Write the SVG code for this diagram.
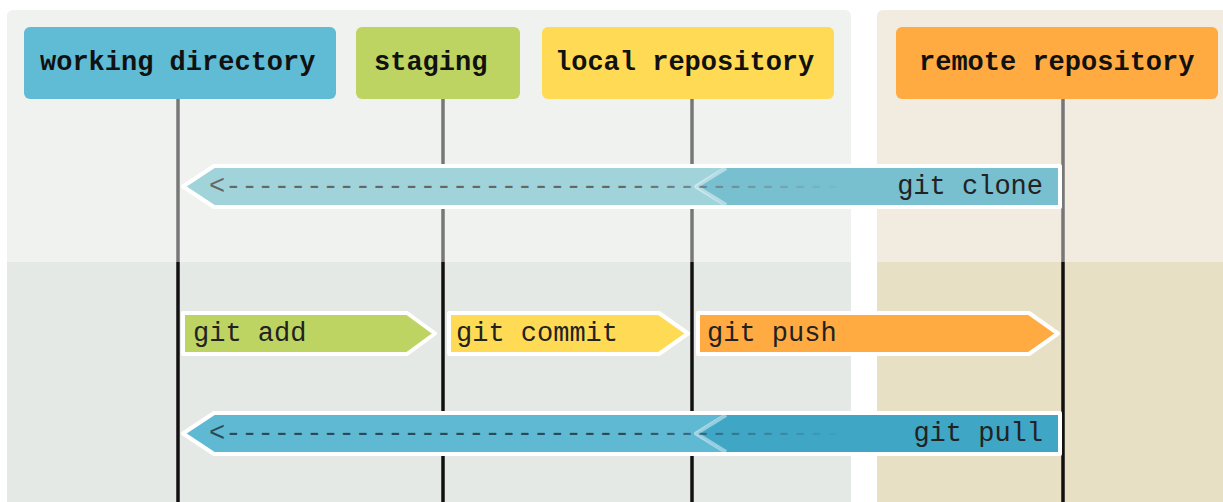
<svg xmlns="http://www.w3.org/2000/svg" width="1223" height="502" viewBox="0 0 1223 502">
<style>
.node-label{font-family:"Liberation Mono","Courier New",monospace;font-size:27px;font-weight:bold;fill:#111}
.arrow-label{font-family:"Liberation Mono","Courier New",monospace;font-size:27px;fill:#222}
.dash{font-family:"Liberation Mono","Courier New",monospace;font-size:27px}
.life-top{stroke:#777;stroke-width:3.5}
.life-bot{stroke:#111;stroke-width:3.5}
.outline{fill:none;stroke:#fff;stroke-width:4;stroke-linejoin:round}
.chev{fill:none;stroke:#fff;stroke-opacity:0.45;stroke-width:4;stroke-linejoin:round}
</style>
<defs>
<linearGradient id="fadeClone" gradientUnits="userSpaceOnUse" x1="620" y1="0" x2="850" y2="0">
<stop offset="0" stop-color="#666" stop-opacity="1"/>
<stop offset="1" stop-color="#666" stop-opacity="0"/>
</linearGradient>
<linearGradient id="fadePull" gradientUnits="userSpaceOnUse" x1="620" y1="0" x2="850" y2="0">
<stop offset="0" stop-color="#2a4a55" stop-opacity="1"/>
<stop offset="1" stop-color="#2a4a55" stop-opacity="0"/>
</linearGradient>
</defs>
<rect width="1223" height="502" fill="#fff"/>
<g id="panels">
<rect x="7" y="10" width="844" height="500" rx="6" fill="#f0f2ef"/>
<rect x="7" y="262" width="844" height="250" fill="#e5e9e5"/>
<rect x="877" y="10" width="360" height="500" rx="6" fill="#f2ece0"/>
<rect x="877" y="262" width="360" height="250" fill="#e8e0c4"/>
</g>
<g id="node-working-directory">
<rect x="24" y="27" width="312" height="72" rx="6" fill="#60bbd4"/>
<text class="node-label" x="40" y="70">working directory</text>
</g>
<g id="node-staging">
<rect x="356" y="27" width="164" height="72" rx="6" fill="#bed462"/>
<text class="node-label" x="374" y="70">staging</text>
</g>
<g id="node-local-repository">
<rect x="542" y="27" width="292" height="72" rx="6" fill="#ffdb55"/>
<text class="node-label" x="555" y="70">local repository</text>
</g>
<g id="node-remote-repository">
<rect x="896" y="27" width="322" height="72" rx="6" fill="#ffab42"/>
<text class="node-label" x="919" y="70">remote repository</text>
</g>
<g id="connectors">
<g id="lifelines">
<line class="life-top" x1="178" y1="99" x2="178" y2="262"/>
<line class="life-bot" x1="178" y1="262" x2="178" y2="502"/>
<line class="life-top" x1="443" y1="99" x2="443" y2="262"/>
<line class="life-bot" x1="443" y1="262" x2="443" y2="502"/>
<line class="life-top" x1="692" y1="99" x2="692" y2="262"/>
<line class="life-bot" x1="692" y1="262" x2="692" y2="502"/>
<line class="life-top" x1="1063" y1="99" x2="1063" y2="262"/>
<line class="life-bot" x1="1063" y1="262" x2="1063" y2="502"/>
</g>
<g id="git-clone">
<polygon points="183,186.5 214,166 1060,166 1060,207 214,207" fill="#a0d4da"/>
<polygon points="696,186.5 726,166 1060,166 1060,207 726,207" fill="#78bfcf"/>
<polyline class="chev" points="726,168 696,186.5 726,205"/>
<text class="dash" x="209" y="194" fill="url(#fadeClone)">&lt;--------------------------------------</text>
<polygon class="outline" points="183,186.5 214,166 1060,166 1060,207 214,207"/>
<text class="arrow-label" x="1043" y="194" text-anchor="end">git clone</text>
</g>
<g id="git-add">
<polygon points="183,313 407,313 435,333.5 407,354 183,354" fill="#bed462" stroke="#fff" stroke-width="4" stroke-linejoin="round"/>
<text class="arrow-label" x="193" y="341">git add</text>
</g>
<g id="git-commit">
<polygon points="449,313 659,313 688,333.5 659,354 449,354" fill="#ffdb55" stroke="#fff" stroke-width="4" stroke-linejoin="round"/>
<text class="arrow-label" x="456" y="341">git commit</text>
</g>
<g id="git-push">
<polygon points="698,313 1029,313 1058,333.5 1029,354 698,354" fill="#ffab42" stroke="#fff" stroke-width="4" stroke-linejoin="round"/>
<text class="arrow-label" x="707" y="341">git push</text>
</g>
<g id="git-pull">
<polygon points="183,433.5 214,413 1060,413 1060,454 214,454" fill="#5fb9d3"/>
<polygon points="696,433.5 726,413 1060,413 1060,454 726,454" fill="#3fa6c6"/>
<polyline class="chev" points="726,415 696,433.5 726,452"/>
<text class="dash" x="209" y="441" fill="url(#fadePull)">&lt;--------------------------------------</text>
<polygon class="outline" points="183,433.5 214,413 1060,413 1060,454 214,454"/>
<text class="arrow-label" x="1043" y="441" text-anchor="end">git pull</text>
</g>
</g>
</svg>
